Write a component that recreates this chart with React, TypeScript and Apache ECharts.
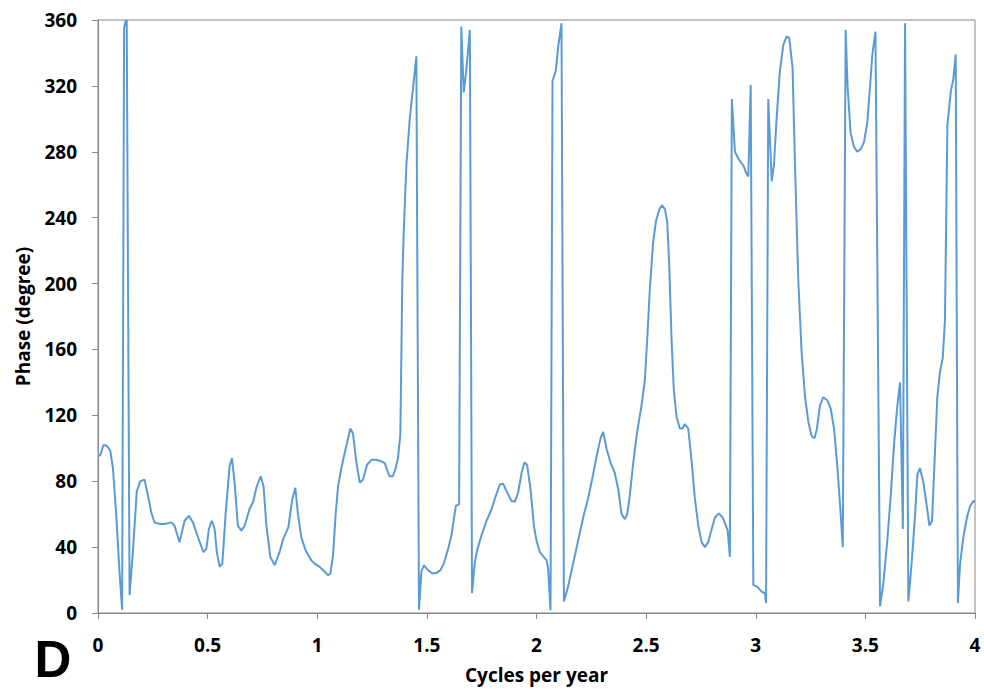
import React, { useEffect, useRef } from "react";
import * as echarts from "echarts";

const freq: number[] = [
  0, 0.011, 0.025, 0.04, 0.056, 0.068, 0.083, 0.098, 0.11, 0.119, 0.125, 0.131, 0.144, 0.159, 0.177, 0.193,
  0.212, 0.227, 0.243, 0.258, 0.281, 0.304, 0.334, 0.349, 0.372, 0.395, 0.414, 0.433, 0.456, 0.481, 0.494,
  0.506, 0.519, 0.532, 0.542, 0.555, 0.567, 0.582, 0.6, 0.611, 0.623, 0.638, 0.654, 0.669, 0.691, 0.709,
  0.722, 0.742, 0.755, 0.768, 0.786, 0.806, 0.828, 0.845, 0.868, 0.886, 0.9, 0.912, 0.927, 0.947, 0.973,
  0.988, 1.011, 1.034, 1.049, 1.06, 1.072, 1.084, 1.095, 1.11, 1.13, 1.151, 1.163, 1.178, 1.194, 1.209,
  1.227, 1.247, 1.27, 1.293, 1.308, 1.318, 1.33, 1.345, 1.358, 1.368, 1.379, 1.388, 1.394, 1.407, 1.422,
  1.437, 1.452, 1.464, 1.475, 1.486, 1.505, 1.525, 1.546, 1.562, 1.577, 1.597, 1.612, 1.632, 1.647, 1.657,
  1.668, 1.681, 1.696, 1.706, 1.718, 1.729, 1.749, 1.772, 1.795, 1.814, 1.833, 1.848, 1.863, 1.886, 1.901,
  1.916, 1.932, 1.945, 1.957, 1.973, 1.988, 2.0, 2.015, 2.03, 2.046, 2.053, 2.064, 2.073, 2.088, 2.099,
  2.114, 2.125, 2.144, 2.167, 2.19, 2.213, 2.236, 2.258, 2.274, 2.292, 2.304, 2.319, 2.338, 2.357, 2.373,
  2.388, 2.403, 2.414, 2.426, 2.441, 2.459, 2.479, 2.494, 2.505, 2.517, 2.532, 2.545, 2.56, 2.573, 2.586,
  2.596, 2.605, 2.616, 2.626, 2.639, 2.654, 2.666, 2.677, 2.692, 2.707, 2.722, 2.738, 2.753, 2.768, 2.783,
  2.799, 2.814, 2.832, 2.849, 2.864, 2.872, 2.882, 2.891, 2.905, 2.92, 2.936, 2.946, 2.955, 2.966, 2.977,
  2.989, 3.007, 3.027, 3.042, 3.047, 3.057, 3.073, 3.083, 3.095, 3.11, 3.126, 3.141, 3.153, 3.168, 3.179,
  3.194, 3.209, 3.225, 3.24, 3.255, 3.267, 3.278, 3.293, 3.308, 3.327, 3.342, 3.357, 3.372, 3.385, 3.397,
  3.41, 3.419, 3.433, 3.448, 3.463, 3.479, 3.494, 3.509, 3.521, 3.531, 3.546, 3.567, 3.582, 3.6, 3.616,
  3.631, 3.646, 3.658, 3.671, 3.681, 3.696, 3.712, 3.727, 3.737, 3.749, 3.765, 3.78, 3.792, 3.804, 3.813,
  3.828, 3.841, 3.853, 3.863, 3.874, 3.89, 3.901, 3.912, 3.922, 3.932, 3.947, 3.963, 3.978, 3.993, 4.0,
];

const phase: number[] = [
  95, 96, 102, 101.5, 98.5, 88, 60, 25, 2, 355, 359, 360, 11, 37, 74, 80,
  81, 72, 61, 55, 54, 54, 55, 53, 43, 56, 59, 55, 46, 37, 39,
  51, 56, 51, 37, 28, 30, 60, 89, 94, 79, 53, 50, 53, 63, 68,
  76, 83, 77, 53, 34, 29, 37, 45, 52, 69, 76, 60, 46, 38, 32,
  30, 28, 25, 23, 24, 35, 60, 77, 88, 100, 112, 109, 92, 79, 81,
  90, 93, 93, 92, 91, 87, 83, 83, 88, 94, 108, 202, 230, 273, 300,
  319, 338, 2, 25, 29, 26, 24, 24.5, 26, 30, 39, 47, 65, 66, 356,
  316, 331, 354, 12, 30, 38, 47, 56, 63, 71, 78, 78.5, 74, 68, 67.5,
  73, 85, 91.5, 90, 75, 53, 44, 37, 34.5, 32, 27, 1.6, 323, 329, 344,
  358, 7, 16, 30, 44, 58, 70, 84, 95, 106, 110, 100, 91, 85, 75,
  60, 57, 60, 72, 91, 110, 126, 141, 166, 197, 225, 238, 245, 247.5, 245,
  238, 213, 166, 136, 119, 112, 112, 114.6, 112, 93, 70, 53, 43, 40, 43,
  51, 58, 60.5, 58, 53, 50, 34, 312, 280, 276, 273, 271, 267.5, 265, 320.5,
  17, 16, 13, 12, 6, 312, 262, 272, 300, 329, 345, 350, 349, 331, 272,
  202, 159, 131, 116, 107.5, 106, 111, 126, 131, 129, 124, 112, 89, 65, 40,
  354, 319, 291, 283, 280, 281.6, 286, 298, 319, 338, 353, 4, 18, 44, 72,
  103, 126, 140, 51, 358, 7, 32, 60, 84, 88, 79, 65, 53, 56, 84,
  131, 147, 155, 178, 296, 317, 324, 339, 6, 30, 46, 58, 65, 68, 67.5,
];

const xTitle = "Cycles per year";
const yTitle = "Phase (degree)";
const panelLabel = "D";

const FONT = "'Open Sans', 'Liberation Sans', sans-serif";
const D_FONT = "'Liberation Sans', Arial, sans-serif";

export default function App() {
  const ref = useRef<HTMLDivElement>(null);
  useEffect(() => {
    document.body.style.margin = "0";
    if (!ref.current) return;
    const chart = echarts.init(ref.current, undefined, { renderer: "svg" });
    const data = freq.map((f, i) => [f, phase[i]]);
    chart.setOption({
      animation: false,
      backgroundColor: "#ffffff",
      textStyle: { fontFamily: FONT },
      grid: {
        left: 98,
        right: 9,
        top: 20,
        bottom: 76,
        show: true,
        borderColor: "#868686",
        borderWidth: 1,
        backgroundColor: "transparent",
      },
      xAxis: {
        type: "value",
        min: 0,
        max: 4,
        interval: 0.5,
        name: xTitle,
        nameLocation: "middle",
        nameGap: 51,
        nameTextStyle: { fontFamily: FONT, fontWeight: "bold", fontSize: 19, color: "#000", lineHeight: 22 },
        axisLine: { show: true, lineStyle: { color: "#868686", width: 1 } },
        axisTick: { show: true, inside: false, length: 6, lineStyle: { color: "#868686" } },
        axisLabel: { margin: 21, fontFamily: FONT, fontWeight: "bold", fontSize: 19, color: "#000", lineHeight: 22 },
        splitLine: { show: false },
      },
      yAxis: {
        type: "value",
        min: 0,
        max: 360,
        interval: 40,
        name: yTitle,
        nameLocation: "middle",
        nameGap: 62,
        nameRotate: 90,
        nameTextStyle: { fontFamily: FONT, fontWeight: "bold", fontSize: 19, color: "#000", lineHeight: 22 },
        axisLine: { show: true, lineStyle: { color: "#868686", width: 1 } },
        axisTick: { show: true, inside: false, length: 6, lineStyle: { color: "#868686" } },
        axisLabel: { margin: 21, fontFamily: FONT, fontWeight: "bold", fontSize: 19, color: "#000", lineHeight: 22 },
        splitLine: { show: false },
      },
      series: [
        {
          type: "line",
          data,
          showSymbol: false,
          symbol: "none",
          smooth: false,
          clip: true,
          lineStyle: { color: "#5B9BD5", width: 2 },
        },
      ],
      graphic: [
        {
          type: "text",
          x: 53,
          y: 659,
          style: {
            text: panelLabel,
            font: `bold 51px ${D_FONT}`,
            lineHeight: 40,
            fill: "#000",
            align: "center",
            verticalAlign: "middle",
          },
        },
      ],
    });
    return () => chart.dispose();
  }, []);
  return <div ref={ref} style={{ width: 984, height: 691 }} />;
}
